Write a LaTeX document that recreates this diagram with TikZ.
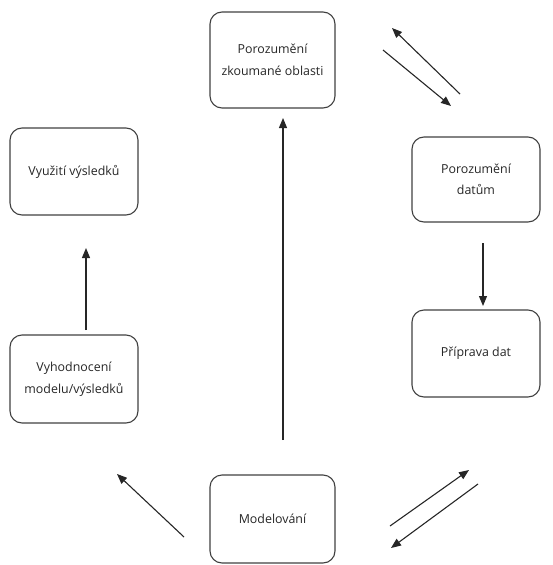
\documentclass[tikz,border=0pt]{standalone}
\usepackage{fontspec}
\setmainfont{Open Sans}
\usetikzlibrary{arrows.meta}
\begin{document}
\begin{tikzpicture}[x=1pt,y=-1pt,
  stage/.style={draw=black!75, line width=1.1pt, rounded corners=12pt, align=center,
    font=\fontsize{12.4}{21.5}\selectfont, text=black!85, inner sep=0pt},
  flow/.style={draw=black!85, line width=1.1pt, -{Triangle[length=10pt,width=8pt]}}]
\useasboundingbox (0,0) rectangle (553,565);
\node[stage, minimum width=125pt, minimum height=96pt] (domain) at (272.5,60) {Porozumění\\zkoumané oblasti};
\node[stage, minimum width=128pt, minimum height=85pt] (data) at (476,179.5) {Porozumění\\datům};
\node[stage, minimum width=128pt, minimum height=87pt] (prep) at (476,353.5) {Příprava dat};
\node[stage, minimum width=125pt, minimum height=88pt] (model) at (272.5,519) {Modelování};
\node[stage, minimum width=128pt, minimum height=88pt] (eval) at (74,379) {Vyhodnocení\\modelu/výsledků};
\node[stage, minimum width=128pt, minimum height=87pt] (deploy) at (74,171.5) {Využití výsledků};
\coordinate (a1s) at (460,94);  \coordinate (a1e) at (392,28);
\coordinate (a2s) at (383,50);  \coordinate (a2e) at (451,106);
\coordinate (a3s) at (483,243); \coordinate (a3e) at (483,306);
\coordinate (a4s) at (390,526); \coordinate (a4e) at (469,470);
\coordinate (a5s) at (478,484); \coordinate (a5e) at (391,548);
\coordinate (a6s) at (184,537); \coordinate (a6e) at (117,474);
\coordinate (a7s) at (86,330);  \coordinate (a7e) at (86,248);
\coordinate (a8s) at (283,440); \coordinate (a8e) at (283,118);
\draw[flow] (a1s) -- (a1e);
\draw[flow] (a2s) -- (a2e);
\draw[flow] (a3s) -- (a3e);
\draw[flow] (a4s) -- (a4e);
\draw[flow] (a5s) -- (a5e);
\draw[flow] (a6s) -- (a6e);
\draw[flow] (a7s) -- (a7e);
\draw[flow] (a8s) -- (a8e);
\end{tikzpicture}
\end{document}
